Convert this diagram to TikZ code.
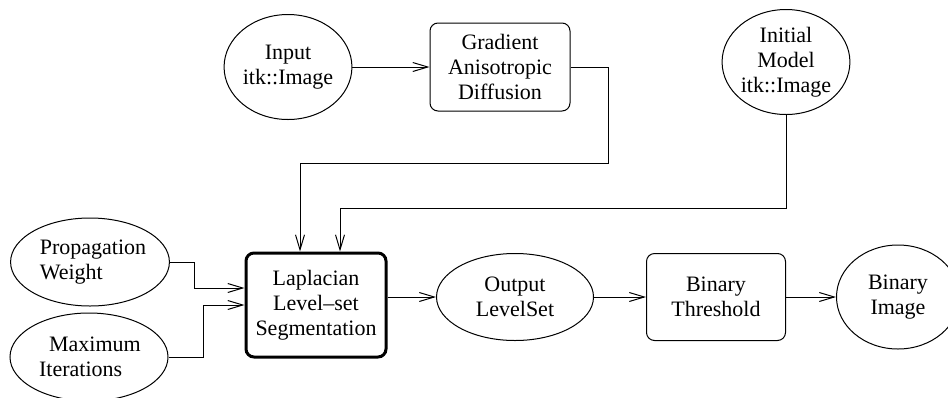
\documentclass[tikz,border=0pt]{standalone}
\usepackage{fontspec}
\setmainfont{Liberation Serif}
\usepackage{tikz}
\usetikzlibrary{
  shapes.geometric,
  arrows.meta
}
\tikzset{
    dataobj/.style={ellipse, draw, line width=0.5pt, inner sep=0pt, align=center},
    filterbox/.style={rectangle, draw, line width=0.5pt, rounded corners=4pt, inner sep=0pt, align=center},
    conn/.style={line width=0.5pt, -{Straight Barb[length=7.5pt,width=4.5pt]}}
}

\begin{document}
\begin{tikzpicture}[x=0.5pt, y=-0.5pt, font=\rmfamily\fontsize{11}{12.5}\selectfont]
    \useasboundingbox (0,0) rectangle (948,397);
    % top row
    \node[dataobj, minimum width=60.5pt, minimum height=52.5pt] (input) at (288,67) {Input\\itk::Image};
    \node[filterbox, minimum width=70pt, minimum height=44pt] (grad) at (500,67) {Gradient\\Anisotropic\\Diffusion};
    \node[dataobj, minimum width=61.5pt, minimum height=52.5pt] (init) at (786,62) {Initial\\Model\\itk::Image};
    % main row
    \node[dataobj, minimum width=78pt, minimum height=44pt, align=left] (prop) at (90,262) {\hspace{3pt}Propagation\\\hspace{3pt}Weight};
    \node[dataobj, minimum width=79pt, minimum height=44pt, align=left] (maxit) at (89,357) {\hspace{6pt}Maximum\\\hspace{1pt}Iterations};
    \node[filterbox, minimum width=70pt, minimum height=52pt, line width=1.5pt] (lap) at (316,305) {Laplacian\\Level--set\\Segmentation};
    \node[dataobj, minimum width=78.5pt, minimum height=43.5pt] (out) at (515,297) {Output\\LevelSet};
    \node[filterbox, minimum width=69.5pt, minimum height=43.5pt] (thresh) at (716,297) {Binary\\Threshold};
    \node[dataobj, minimum width=61.5pt, minimum height=52pt] (binimg) at (898,297) {Binary\\Image};
    % bends
    \coordinate (gbend) at (608,163);
    \coordinate (ibend) at (786,208);
    \coordinate (pbend) at (194,288);
    \coordinate (mbend) at (203,305);
    % connectors
    \draw[conn] (input) -- (grad);
    \draw[conn] (grad.east) -| (gbend) -| ([xshift=-8pt]lap.north);
    \draw[conn] (init.south) -- (ibend) -| ([xshift=12pt]lap.north);
    \draw[conn] (prop.east) -| (pbend) -- (pbend -| lap.west);
    \draw[conn] (maxit.east) -| (mbend) -- (mbend -| lap.west);
    \draw[conn] (lap.east |- out) -- (out.west);
    \draw[conn] (out) -- (thresh);
    \draw[conn] (thresh) -- (binimg);
\end{tikzpicture}
\end{document}
